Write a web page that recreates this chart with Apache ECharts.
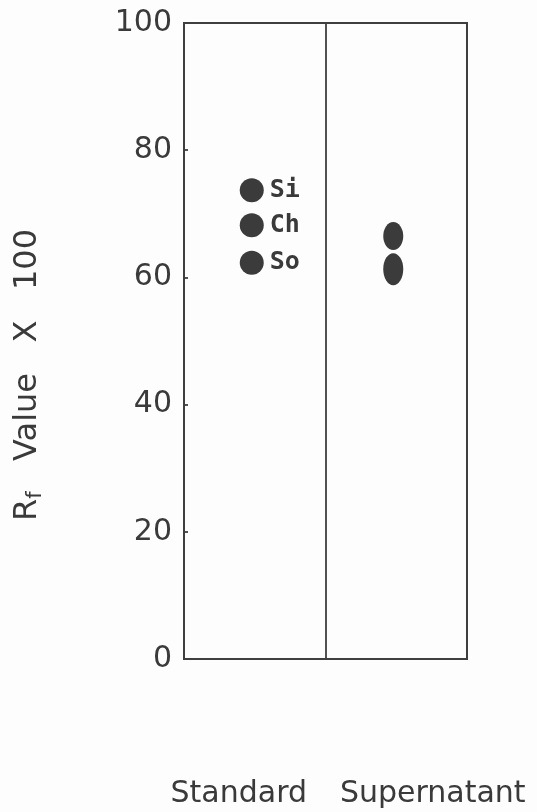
<!DOCTYPE html>
<html><head><meta charset="utf-8">
<script src="https://cdn.jsdelivr.net/npm/echarts@6/dist/echarts.min.js"></script>
<style>html,body{margin:0;padding:0;background:#fdfdfd}#c{width:537px;height:812px}</style>
</head><body><div id="c"></div>
<script>
const categories = ['Standard', 'Supernatant'];
const yTicks = [0, 20, 40, 60, 80, 100];
const standardNames = ['Si', 'Ch', 'So'];
const standardValues = [73.7, 68.2, 62.3];
const supernatantValues = [66.5, 61.3];
const supernatantSizes = [[20, 28], [20, 32]];

const txt = '#3a3a3a';
const line = '#3f3f3f';
const chart = echarts.init(document.getElementById('c'));
chart.setOption({
  backgroundColor: '#fdfdfd',
  animation: false,
  grid: { left: 184, right: 70, top: 23, bottom: 153, show: true, borderColor: line, borderWidth: 2, backgroundColor: 'transparent' },
  xAxis: {
    type: 'category', data: categories, boundaryGap: true,
    axisLine: { show: false }, axisTick: { show: false },
    splitLine: { show: true, lineStyle: { color: line, width: 1.8 } },
    axisLabel: {
      margin: 120,
      formatter: (v, i) => i === 0 ? '{a|' + v + '}' : '{b|' + v + '}',
      rich: {
        a: { fontFamily: 'DejaVu Sans', fontSize: 30, color: txt, padding: [0, 32, 0, 0] },
        b: { fontFamily: 'DejaVu Sans', fontSize: 30, color: txt, padding: [0, 0, 0, 73] }
      }
    }
  },
  yAxis: {
    type: 'value', min: yTicks[0], max: yTicks[yTicks.length - 1], interval: 20,
    axisLine: { show: false },
    axisTick: { show: true, inside: true, length: 4, lineStyle: { color: line, width: 1.8 } },
    splitLine: { show: false },
    axisLabel: { margin: 12, fontFamily: 'DejaVu Sans', fontSize: 30, color: txt },
    name: '{m|R}{s|f}{m|   Value   X   100}',
    nameLocation: 'middle', nameGap: 138, nameRotate: 90,
    nameTextStyle: {
      padding: [0, 68, 0, 0],
      rich: {
        m: { fontFamily: 'DejaVu Sans', fontSize: 32, color: txt },
        s: { fontFamily: 'DejaVu Sans', fontSize: 21, color: txt, padding: [16, 0, 0, 0] }
      }
    }
  },
  series: [
    {
      type: 'scatter', symbol: 'circle', symbolSize: 24, symbolOffset: [-3, 0],
      itemStyle: { color: '#3b3b3b', opacity: 1 },
      label: { show: true, position: 'right', distance: 6, formatter: p => p.data.name,
        fontFamily: 'DejaVu Sans Mono', fontSize: 25, color: txt, fontWeight: 'bold' },
      data: standardValues.map((v, i) => ({ name: standardNames[i], value: [0, v] }))
    },
    {
      type: 'scatter', symbol: 'circle', symbolOffset: [-3, 0],
      itemStyle: { color: '#3b3b3b', opacity: 1 },
      data: supernatantValues.map((v, i) => ({ value: [1, v], symbolSize: supernatantSizes[i] }))
    }
  ]
});
</script></body></html>
